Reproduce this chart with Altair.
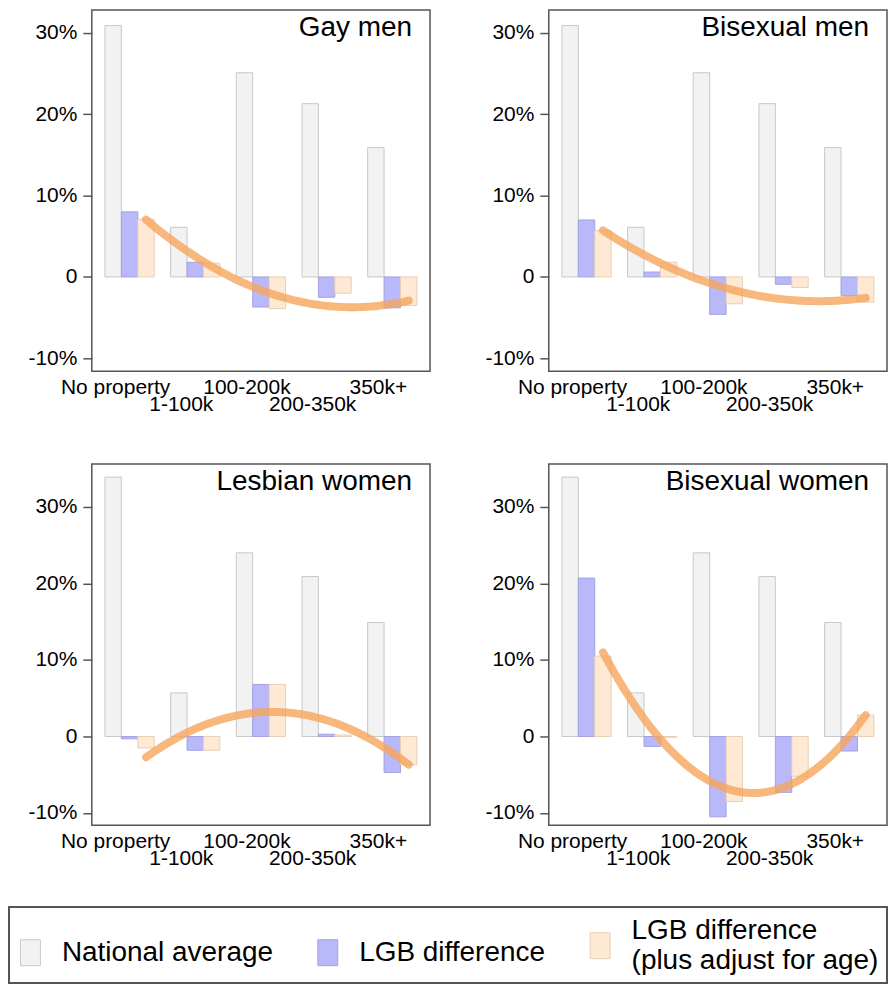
import altair as alt
import pandas as pd

# ---------------- data ----------------
categories = ["No property", "1-100k", "100-200k", "200-350k", "350k+"]
series_names = ["National average", "LGB difference", "LGB difference (plus adjust for age)"]
panel_titles = ["Gay men", "Bisexual men", "Lesbian women", "Bisexual women"]

national_men = [30.9, 6.1, 25.1, 21.3, 15.9]
national_women = [33.9, 5.7, 24.0, 20.9, 14.9]

gay_men_lgb = [8.0, 1.8, -3.7, -2.5, -3.8]
gay_men_adj = [7.1, 1.7, -3.9, -2.0, -3.5]
bi_men_lgb = [7.0, 0.6, -4.6, -0.9, -2.3]
bi_men_adj = [5.7, 1.8, -3.3, -1.3, -3.1]
lesbian_lgb = [-0.3, -1.8, 6.8, 0.3, -4.7]
lesbian_adj = [-1.5, -1.8, 6.8, 0.2, -3.7]
bi_women_lgb = [20.7, -1.3, -10.5, -7.3, -1.9]
bi_women_adj = [10.5, -0.1, -8.5, -5.2, 2.8]

y_ticks = [-10, 0, 10, 20, 30]
y_domain_men = [-11.6, 32.8]
y_domain_women = [-11.6, 35.6]

# ---------------- styling ----------------
FONT = "Liberation Sans"
fills = ["#f2f2f2", "#b9b9f9", "#fde9d4"]
strokes = ["#c8c8c8", "#a2a2e4", "#e8cfb6"]
FRAME = "#555555"
W, H = 339, 362
PAD_IN, PAD_OUT = 0.25, 0.2

n = len(categories)
step = W / (n - PAD_IN + 2 * PAD_OUT)
start = (W - step * (n - PAD_IN)) / 2
bar_w = step * (1 - PAD_IN) / len(series_names)
c1 = start + 2.5 * bar_w  # centre of the age-adjusted bar of first group
x_lo = 1 - c1 / step
x_hi = 1 + (W - c1) / step

two_line = "datum.label == 'LGB difference (plus adjust for age)'"

legend = alt.Legend(
    title=None,
    orient="none",
    legendX=-83,
    legendY=899,
    direction="horizontal",
    # a 20x26 swatch drawn inside a 60px symbol cell (gives the legend row its height)
    symbolType="M-0.333,-0.433H0.333V0.433H-0.333Z",
    symbolSize=3600,
    symbolOffset={"expr": "-17"},
    symbolStrokeWidth=1,
    labelFontSize=28,
    labelFont=FONT,
    labelColor="black",
    labelLimit=600,
    labelOffset=1,
    columnPadding=41,
    padding=8,
    strokeColor=FRAME,
    labelBaseline={"expr": two_line + " ? 'line-bottom' : 'middle'"},
    labelExpr=two_line + " ? ['LGB difference', '(plus adjust for age)'] : datum.label",
)

x_axis = alt.Axis(
    title=None,
    labelAngle=0,
    ticks=False,
    domain=False,
    labelPadding=5,
    labelOffset=-14,
    labelFontSize=21,
    labelFont=FONT,
    labelColor="black",
    labelOverlap=False,
    labelBound=False,
    labelLineHeight=17,
    labelExpr="indexof(['1-100k','200-350k'], datum.value) >= 0 ? ['', datum.value] : datum.value",
)

y_axis = alt.Axis(
    title=None,
    values=y_ticks,
    grid=False,
    domain=False,
    tickSize=9,
    tickWidth=1.5,
    tickColor=FRAME,
    labelPadding=6,
    labelFontSize=21,
    labelFont=FONT,
    labelColor="black",
    labelExpr="datum.value == 0 ? '0' : datum.value + '%'",
)


def panel(title, national, lgb, adj, ydom):
    rows = []
    for i, cat in enumerate(categories):
        for s, vals in zip(series_names, [national, lgb, adj]):
            rows.append({"cat": cat, "idx": i + 1, "series": s, "value": vals[i]})
    df = pd.DataFrame(rows)
    yscale = alt.Scale(domain=ydom, nice=False, zero=True)

    bars = alt.Chart(df).mark_bar(strokeWidth=1).encode(
        x=alt.X("cat:N", sort=categories,
                scale=alt.Scale(paddingInner=PAD_IN, paddingOuter=PAD_OUT),
                axis=x_axis),
        xOffset=alt.XOffset("series:N", sort=series_names,
                            scale=alt.Scale(paddingInner=0, paddingOuter=0)),
        y=alt.Y("value:Q", scale=yscale, axis=y_axis),
        fill=alt.Fill("series:N", sort=series_names,
                      scale=alt.Scale(domain=series_names, range=fills), legend=legend),
        stroke=alt.Stroke("series:N", sort=series_names,
                          scale=alt.Scale(domain=series_names, range=strokes), legend=legend),
    )

    fit = alt.Chart(df).transform_filter(
        alt.datum.series == series_names[2]
    ).transform_regression(
        "idx", "value", method="poly", order=2, extent=[1, 5]
    ).mark_line(
        color="#f5a55c", strokeWidth=8, opacity=0.8, strokeCap="round"
    ).encode(
        x=alt.X("idx:Q", scale=alt.Scale(domain=[x_lo, x_hi], nice=False, zero=False), axis=None),
        y=alt.Y("value:Q", scale=yscale, axis=y_axis),
    )

    label = alt.Chart(pd.DataFrame({"t": [title]})).mark_text(
        align="right", baseline="alphabetic", fontSize=28, font=FONT, color="black"
    ).encode(text="t:N", x=alt.value(W - 18), y=alt.value(26))

    return alt.layer(bars, fit, label).resolve_scale(x="independent").properties(
        width=W, height=H
    )


p1 = panel(panel_titles[0], national_men, gay_men_lgb, gay_men_adj, y_domain_men)
p2 = panel(panel_titles[1], national_men, bi_men_lgb, bi_men_adj, y_domain_men)
p3 = panel(panel_titles[2], national_women, lesbian_lgb, lesbian_adj, y_domain_women)
p4 = panel(panel_titles[3], national_women, bi_women_lgb, bi_women_adj, y_domain_women)

row1 = alt.hconcat(p1, p2, spacing=53)
row2 = alt.hconcat(p3, p4, spacing=53)

chart = alt.vconcat(row1, row2, spacing=48).properties(
    padding={"left": 0, "top": 0, "right": 0, "bottom": 0}
).configure(font=FONT).configure_view(
    stroke=FRAME, strokeWidth=1.5
).configure_legend(strokeWidth=2)

chart.save("out.html", embed_options={"renderer": "svg", "actions": False})
